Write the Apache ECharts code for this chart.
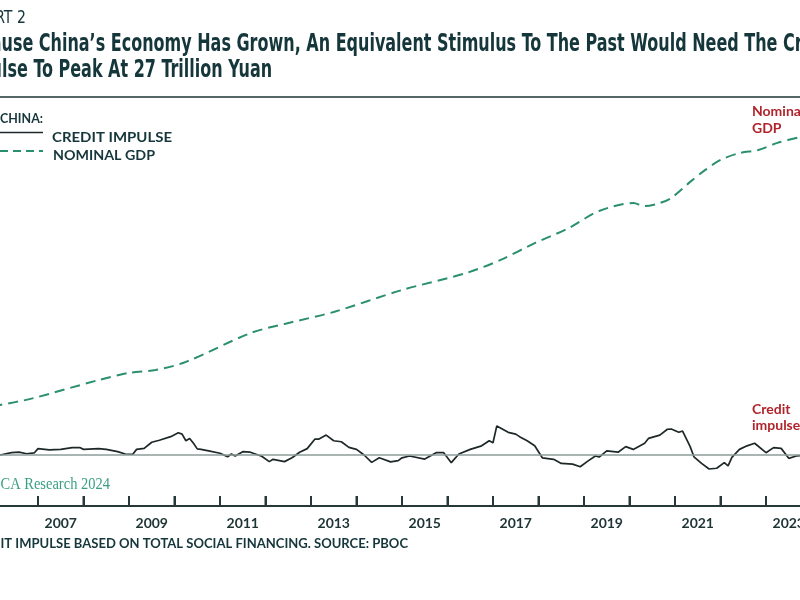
<!DOCTYPE html>
<html><head><meta charset="utf-8">
<script src="https://cdn.jsdelivr.net/npm/echarts@6/dist/echarts.min.js"></script>
<style>html,body{margin:0;padding:0;background:#fff}#c{width:800px;height:600px}</style>
</head><body><div id="c"></div>
<script>
// ---- data ----
const yearCategories = ["2006","2007","2008","2009","2010","2011","2012","2013","2014","2015","2016","2017","2018","2019","2020","2021","2022","2023"];
const tickLabels = ["2007","2009","2011","2013","2015","2017","2019","2021","2023"];

const creditDates = ["2006-01","2006-03","2006-06","2006-08","2006-10","2006-12","2007-01","2007-04","2007-07","2007-10","2007-12",
"2008-01","2008-05","2008-07","2008-10","2008-12","2009-02","2009-03","2009-05","2009-07","2009-09","2009-12",
"2010-02","2010-03","2010-04","2010-05","2010-06","2010-07","2010-08","2010-10","2011-01","2011-03","2011-04","2011-05","2011-07","2011-09","2011-12",
"2012-02","2012-03","2012-06","2012-08","2012-10","2012-12","2013-02","2013-03","2013-05","2013-07","2013-09","2013-11",
"2014-01","2014-03","2014-05","2014-07","2014-10","2014-12","2015-01","2015-03","2015-07","2015-10","2015-12",
"2016-02","2016-04","2016-07","2016-10","2016-12","2017-01","2017-02","2017-05","2017-07","2017-08","2017-10","2017-12",
"2018-02","2018-05","2018-07","2018-10","2018-12","2019-02","2019-04","2019-05","2019-07","2019-10","2019-12",
"2020-02","2020-05","2020-06","2020-09","2020-11","2020-12","2021-02","2021-03","2021-05","2021-06","2021-08","2021-10","2021-12",
"2022-02","2022-03","2022-04","2022-06","2022-08","2022-10","2023-01","2023-03","2023-05","2023-07","2023-09","2023-12"];
const creditValues = [-0.2,0.0,0.9,1.1,0.5,0.8,2.5,2.0,2.2,2.9,2.9,
2.2,2.5,2.2,1.3,0.4,0.3,2.2,2.6,5.0,5.8,7.2,
8.7,8.2,5.6,6.5,4.6,2.4,2.2,1.6,0.7,-0.7,0.4,-0.4,1.3,1.1,-0.5,
-2.6,-1.7,-2.6,-1.1,1.1,2.5,6.2,6.2,7.8,5.6,5.2,3.0,
2.2,0.0,-2.9,-1.1,-2.7,-2.2,-1.1,-0.4,-1.6,0.9,0.9,
-3.0,0.4,2.2,3.6,5.6,4.8,11.4,8.9,8.2,7.2,5.6,3.6,
-1.1,-1.7,-3.3,-3.6,-4.6,-2.4,-0.4,-0.8,1.6,1.1,3.3,
2.2,4.6,6.5,7.8,10.1,10.2,8.9,9.4,3.3,-0.7,-3.3,-5.5,-5.2,
-3.0,-4.3,-0.9,2.2,3.6,4.6,0.9,2.9,2.6,-1.3,-0.4,0.2];

const gdpDates = ["2006-01","2006-03","2006-11","2008-05","2009-01","2009-08","2010-04","2011-09","2012-06","2013-07","2015-01",
"2016-06","2017-03","2017-12","2018-09","2019-05","2020-02","2020-05","2020-09","2020-12","2021-05","2021-09",
"2022-01","2022-06","2022-11","2023-04","2023-10","2024-01"];
const gdpValues = [19.0,19.6,22.0,29.4,32.2,33.3,36.5,47.8,51.4,56.1,64.7,
71.4,76.5,83.1,89.0,95.7,98.8,97.6,98.8,100.8,107.1,111.8,
115.7,118.4,119.6,122.4,124.7,126.0];

// ---- helpers ----
function toYear(d){ const p=d.split('-'); return +p[0] + (+p[1]-1)/12; }
const mctx = document.createElement('canvas').getContext('2d');
function mw(t, f){ mctx.font = f; return mctx.measureText(t).width; }
function txt(full, prefix, span, x0, x1, y, size, weight, family, color, forceScale){
  const f = weight + ' ' + size + 'px ' + family;
  let s = forceScale != null ? forceScale : (x1 != null ? (x1 - x0) / mw(span, f) : 1);
  return {type:'text', x: x0 - mw(prefix, f) * s, y: y, scaleX: s, silent: true, z: 10,
    style:{text: full, fontSize: size, fontWeight: weight, fontFamily: family, fill: color,
      textAlign:'left', textVerticalAlign:'middle', align:'left', verticalAlign:'middle'}};
}
const COND = "'Liberation Sans Narrow', 'DejaVu Sans Condensed', Roboto, sans-serif";
const GEO = "Lato, 'Open Sans', sans-serif";
const SERIF = "'Liberation Serif', 'DejaVu Serif', serif";
const DARK = '#15363a';
const RED = '#b0252c';
const TEAL = '#2a8f6f';
const AXIS = '#263838';

const Y_MIN = -20, Y_MAX = 140, GRID_TOP = 98, GRID_BOTTOM = 94;

const titleSpan = "use China\u2019s Economy Has Grown, An Equivalent Stimulus To The Past Would Need The ";
const tF = 'bold 24px ' + COND;
const tScale = (783 - 1.5) / mw(titleSpan, tF);

const graphics = [
  {type:'line', silent:true, shape:{x1:0,y1:97,x2:800,y2:97}, style:{stroke:'#1d3535', lineWidth:1.5}},
  txt("CHART 2", "CHAR", "T 2", 5, 27, 18, 18, 'normal', COND, DARK),
  txt("Because China\u2019s Economy Has Grown, An Equivalent Stimulus To The Past Would Need The Credit", "Beca", titleSpan, 1.5, null, 44.5, 24, 'bold', COND, DARK, tScale),
  txt("Impulse To Peak At 27 Trillion Yuan", "Impu", "", 2, null, 71, 24, 'bold', COND, DARK, tScale),
  txt("CHINA:", "", "CHINA:", 0, 43, 118, 14, 'bold', GEO, DARK),
  {type:'line', silent:true, shape:{x1:0,y1:132.5,x2:43,y2:132.5}, style:{stroke:'#1e2828', lineWidth:1.6}},
  {type:'line', silent:true, shape:{x1:0,y1:151,x2:43,y2:151}, style:{stroke:TEAL, lineWidth:2, lineDash:[8,5]}},
  txt("CREDIT IMPULSE", "", "CREDIT IMPULSE", 52, 172, 137, 14, 'bold', GEO, DARK),
  txt("NOMINAL GDP", "", "NOMINAL GDP", 53, 155, 155, 14, 'bold', GEO, DARK),
  txt("Nominal", "", "", 752, null, 111, 14, 'bold', GEO, RED),
  txt("GDP", "", "", 752, null, 128, 14, 'bold', GEO, RED),
  txt("Credit", "", "", 752, null, 409, 14, 'bold', GEO, RED),
  txt("impulse", "", "", 752, null, 425, 14, 'bold', GEO, RED),
  txt("BCA Research 2024", "B", "CA Research 2024", 0.5, 110, 485, 17, 'normal', SERIF, '#3a9f80'),
  txt("NOTE: CREDIT IMPULSE BASED ON TOTAL SOCIAL FINANCING. SOURCE: PBOC", "NOTE: CRED", "IT IMPULSE BASED ON TOTAL SOCIAL FINANCING. SOURCE: PBOC", 0.5, 408, 543.5, 13, 'bold', GEO, DARK)
];

const chart = echarts.init(document.getElementById('c'), null, {renderer:'canvas'});
chart.setOption({
  animation: false,
  grid: [{left: -7.5, right: -11.5, top: GRID_TOP, bottom: GRID_BOTTOM, outerBoundsMode:'none'}],
  xAxis: [
    {type:'category', show:true, position:'bottom', gridIndex:0, data: yearCategories, boundaryGap:true, z:5,
     axisLine:{show:true, onZero:false, lineStyle:{color:AXIS, width:2}},
     axisTick:{show:true, inside:true, length:10, interval:0, alignWithLabel:false, lineStyle:{color:AXIS, width:2}},
     axisLabel:{show:true, interval:0, margin:10, fontFamily:'Lato', fontWeight:'bold', fontSize:14, color:'#1f3434',
       formatter: v => tickLabels.indexOf(String(v)) >= 0 ? String(v) : ''},
     splitLine:{show:false}},
    {type:'value', show:false, gridIndex:0, min:2006, max:2024}
  ],
  yAxis: [{type:'value', gridIndex:0, min:Y_MIN, max:Y_MAX, show:false}],
  series: [
    {name:'NOMINAL GDP', type:'line', xAxisIndex:1, yAxisIndex:0, showSymbol:false, smooth:0.3, z:2,
     data: gdpDates.map((d,i) => [toYear(d), gdpValues[i]]),
     lineStyle:{color:TEAL, width:2, type:[10,6]},
     markLine:{silent:true, symbol:['none','none'], label:{show:false}, emphasis:{disabled:true},
       lineStyle:{color:'#8c9d99', width:1.5, type:'solid'}, data:[{yAxis:0}]}},
    {name:'CREDIT IMPULSE', type:'line', xAxisIndex:1, yAxisIndex:0, showSymbol:false, z:3,
     data: creditDates.map((d,i) => [toYear(d), creditValues[i]]),
     lineStyle:{color:'#1e2828', width:1.7}}
  ]
});

// axis baseline and year-boundary ticks, positioned through the chart's own scales
const tickYears = yearCategories.map(Number).concat([+yearCategories[yearCategories.length-1] + 1]);
const axisGraphics = [];
const pStart = chart.convertToPixel({seriesIndex:1}, [tickYears[0], Y_MIN]);
const pEnd = chart.convertToPixel({seriesIndex:1}, [tickYears[tickYears.length-1], Y_MIN]);
if (pStart && pEnd) {
  axisGraphics.push({type:'line', silent:true, z:100,
    shape:{x1:pStart[0], y1:pStart[1], x2:pEnd[0], y2:pEnd[1]}, style:{stroke:AXIS, lineWidth:2}});
  tickYears.forEach(y => {
    const p = chart.convertToPixel({seriesIndex:1}, [y, Y_MIN]);
    axisGraphics.push({type:'line', silent:true, z:100,
      shape:{x1:p[0], y1:p[1], x2:p[0], y2:p[1] - 10}, style:{stroke:AXIS, lineWidth:2}});
  });
}
chart.setOption({graphic: graphics.concat(axisGraphics)});
</script></body></html>
